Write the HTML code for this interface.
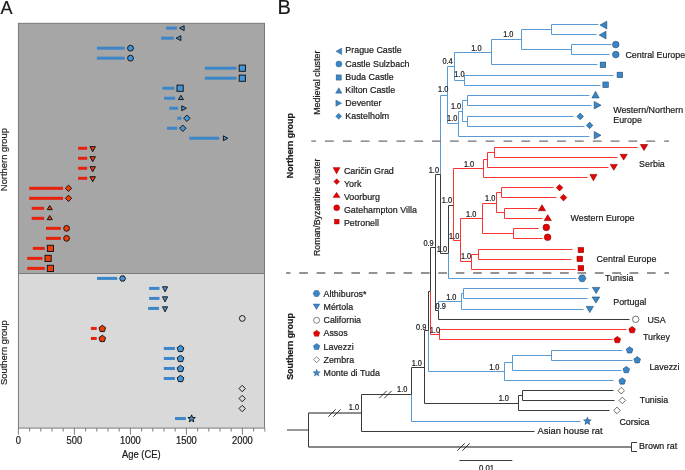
<!DOCTYPE html>
<html><head><meta charset="utf-8"><style>
html,body{margin:0;padding:0;background:#fff;overflow:hidden;}
svg{display:block;will-change:transform;}
text{font-family:"Liberation Sans",sans-serif;}
</style></head><body>
<svg width="685" height="470" viewBox="0 0 685 470">
<rect x="18.4" y="23.3" width="246.1" height="250.2" fill="#a6a6a6"/>
<rect x="18.4" y="273.5" width="246.1" height="154.6" fill="#d9d9d9"/>
<rect x="166.1" y="26.65" width="10.8" height="3" fill="#3c86c8"/>
<polygon points="179.57,28.15 184.12,25.73 184.12,30.57" fill="#4297dc" stroke="#111" stroke-width="0.95" />
<rect x="161.1" y="36.66" width="12.6" height="3" fill="#3c86c8"/>
<polygon points="176.17,38.16 180.83,35.73 180.83,40.58" fill="#4297dc" stroke="#111" stroke-width="0.95" />
<rect x="96.9" y="46.67" width="27.8" height="3" fill="#3c86c8"/>
<circle cx="130.5" cy="48.17" r="2.9" fill="#4297dc" stroke="#111" stroke-width="0.95"/>
<rect x="96.9" y="56.68" width="27.8" height="3" fill="#3c86c8"/>
<circle cx="130.5" cy="58.18" r="2.9" fill="#4297dc" stroke="#111" stroke-width="0.95"/>
<rect x="204.9" y="66.69" width="31.6" height="3" fill="#3c86c8"/>
<rect x="239.2" y="65.09" width="6.2" height="6.2" fill="#4297dc" stroke="#111" stroke-width="0.95"/>
<rect x="204.9" y="76.7" width="31.6" height="3" fill="#3c86c8"/>
<rect x="239.2" y="75.1" width="6.2" height="6.2" fill="#4297dc" stroke="#111" stroke-width="0.95"/>
<rect x="162.3" y="86.71" width="12.1" height="3" fill="#3c86c8"/>
<rect x="177" y="85.11" width="6.2" height="6.2" fill="#4297dc" stroke="#111" stroke-width="0.95"/>
<rect x="164.1" y="96.72" width="11" height="3" fill="#3c86c8"/>
<polygon points="180.9,95.39 183.43,99.55 178.38,99.55" fill="#4297dc" stroke="#111" stroke-width="0.95" />
<rect x="169.3" y="106.73" width="8.8" height="3" fill="#3c86c8"/>
<polygon points="181.78,105.8 186.43,108.23 181.78,110.66" fill="#4297dc" stroke="#111" stroke-width="0.95" />
<rect x="177.2" y="116.74" width="4.1" height="3" fill="#3c86c8"/>
<polygon points="186.9,115.04 190.1,118.24 186.9,121.44 183.7,118.24" fill="#4297dc" stroke="#111" stroke-width="0.95" />
<rect x="167" y="126.75" width="10.2" height="3" fill="#3c86c8"/>
<polygon points="182.8,125.05 186,128.25 182.8,131.45 179.6,128.25" fill="#4297dc" stroke="#111" stroke-width="0.95" />
<rect x="189.3" y="136.76" width="29.9" height="3" fill="#3c86c8"/>
<polygon points="223.38,135.83 227.83,138.26 223.38,140.69" fill="#4297dc" stroke="#111" stroke-width="0.95" />
<rect x="78.1" y="146.77" width="9.1" height="3" fill="#e8210c"/>
<polygon points="89.97,146.65 95.43,146.65 92.7,151.7" fill="#ee3c08" stroke="#111" stroke-width="0.95" />
<rect x="78.1" y="156.78" width="9.1" height="3" fill="#e8210c"/>
<polygon points="89.97,156.66 95.43,156.66 92.7,161.71" fill="#ee3c08" stroke="#111" stroke-width="0.95" />
<rect x="78.1" y="166.79" width="9.1" height="3" fill="#e8210c"/>
<polygon points="89.97,166.66 95.43,166.66 92.7,171.72" fill="#ee3c08" stroke="#111" stroke-width="0.95" />
<rect x="78.1" y="176.8" width="9.1" height="3" fill="#e8210c"/>
<polygon points="89.97,176.68 95.43,176.68 92.7,181.73" fill="#ee3c08" stroke="#111" stroke-width="0.95" />
<rect x="29.2" y="186.81" width="33.9" height="3" fill="#e8210c"/>
<polygon points="68.5,185.11 71.7,188.31 68.5,191.51 65.3,188.31" fill="#ee3c08" stroke="#111" stroke-width="0.95" />
<rect x="29.2" y="196.82" width="33.9" height="3" fill="#e8210c"/>
<polygon points="68.5,195.12 71.7,198.32 68.5,201.52 65.3,198.32" fill="#ee3c08" stroke="#111" stroke-width="0.95" />
<rect x="31.7" y="206.83" width="12.4" height="3" fill="#e8210c"/>
<polygon points="49.75,205.5 52.32,209.66 47.18,209.66" fill="#ee3c08" stroke="#111" stroke-width="0.95" />
<rect x="31.7" y="216.84" width="12.4" height="3" fill="#e8210c"/>
<polygon points="49.75,215.51 52.32,219.67 47.18,219.67" fill="#ee3c08" stroke="#111" stroke-width="0.95" />
<rect x="46" y="226.85" width="14.9" height="3" fill="#e8210c"/>
<circle cx="66.6" cy="228.35" r="2.9" fill="#ee3c08" stroke="#111" stroke-width="0.95"/>
<rect x="46" y="236.86" width="14.9" height="3" fill="#e8210c"/>
<circle cx="66.6" cy="238.36" r="2.9" fill="#ee3c08" stroke="#111" stroke-width="0.95"/>
<rect x="32.8" y="246.87" width="12" height="3" fill="#e8210c"/>
<rect x="47.3" y="245.27" width="6.2" height="6.2" fill="#ee3c08" stroke="#111" stroke-width="0.95"/>
<rect x="27.2" y="256.88" width="15.3" height="3" fill="#e8210c"/>
<rect x="45" y="255.28" width="6.2" height="6.2" fill="#ee3c08" stroke="#111" stroke-width="0.95"/>
<rect x="27.2" y="266.89" width="17.6" height="3" fill="#e8210c"/>
<rect x="47.3" y="265.29" width="6.2" height="6.2" fill="#ee3c08" stroke="#111" stroke-width="0.95"/>
<rect x="97" y="276.9" width="20.2" height="3" fill="#3c86c8"/>
<polygon points="125.6,278.5 124.1,281.1 121.1,281.1 119.6,278.5 121.1,275.9 124.1,275.9" fill="#4297dc" stroke="#111" stroke-width="0.95" />
<rect x="149.1" y="286.91" width="10.4" height="3" fill="#3c86c8"/>
<polygon points="162.47,286.78 167.62,286.78 165.05,291.83" fill="#4297dc" stroke="#111" stroke-width="0.95" />
<rect x="149.1" y="296.92" width="10.4" height="3" fill="#3c86c8"/>
<polygon points="162.47,296.79 167.62,296.79 165.05,301.84" fill="#4297dc" stroke="#111" stroke-width="0.95" />
<rect x="148.1" y="306.93" width="10.9" height="3" fill="#3c86c8"/>
<polygon points="162.47,306.8 167.62,306.8 165.05,311.85" fill="#4297dc" stroke="#111" stroke-width="0.95" />
<circle cx="242.3" cy="318.44" r="2.9" fill="none" stroke="#111" stroke-width="0.95"/>
<rect x="90.9" y="326.95" width="5.8" height="3" fill="#e8210c"/>
<polygon points="102.3,325.25 105.63,327.67 104.36,331.58 100.24,331.58 98.97,327.67" fill="#ee3c08" stroke="#111" stroke-width="0.95" />
<rect x="90.9" y="336.96" width="5.8" height="3" fill="#e8210c"/>
<polygon points="102.3,335.26 105.63,337.68 104.36,341.59 100.24,341.59 98.97,337.68" fill="#ee3c08" stroke="#111" stroke-width="0.95" />
<rect x="163.8" y="346.97" width="11.1" height="3" fill="#3c86c8"/>
<polygon points="180.5,345.27 183.83,347.69 182.56,351.6 178.44,351.6 177.17,347.69" fill="#4297dc" stroke="#111" stroke-width="0.95" />
<rect x="163.8" y="356.98" width="11.1" height="3" fill="#3c86c8"/>
<polygon points="180.5,355.28 183.83,357.7 182.56,361.61 178.44,361.61 177.17,357.7" fill="#4297dc" stroke="#111" stroke-width="0.95" />
<rect x="163.8" y="366.99" width="11.1" height="3" fill="#3c86c8"/>
<polygon points="180.5,365.29 183.83,367.71 182.56,371.62 178.44,371.62 177.17,367.71" fill="#4297dc" stroke="#111" stroke-width="0.95" />
<rect x="163.8" y="377" width="11.1" height="3" fill="#3c86c8"/>
<polygon points="180.5,375.3 183.83,377.72 182.56,381.63 178.44,381.63 177.17,377.72" fill="#4297dc" stroke="#111" stroke-width="0.95" />
<polygon points="242.2,385.31 245.4,388.51 242.2,391.71 239,388.51" fill="none" stroke="#111" stroke-width="0.95" />
<polygon points="242.2,395.32 245.4,398.52 242.2,401.72 239,398.52" fill="none" stroke="#111" stroke-width="0.95" />
<polygon points="242.2,405.33 245.4,408.53 242.2,411.73 239,408.53" fill="none" stroke="#111" stroke-width="0.95" />
<rect x="175" y="417.04" width="10.9" height="3" fill="#3c86c8"/>
<polygon points="191.6,414.84 192.54,417.45 195.31,417.53 193.12,419.23 193.89,421.9 191.6,420.34 189.31,421.9 190.08,419.23 187.89,417.53 190.66,417.45" fill="#4297dc" stroke="#111" stroke-width="0.95" />
<rect x="18.4" y="23.3" width="246.1" height="404.8" fill="none" stroke="#707070" stroke-width="0.9"/>
<line x1="18.4" y1="273.5" x2="264.5" y2="273.5" stroke="#707070" stroke-width="0.9"/>
<line x1="18.4" y1="428.1" x2="18.4" y2="434.7" stroke="#707070" stroke-width="0.9"/>
<line x1="29.6" y1="428.1" x2="29.6" y2="431.6" stroke="#707070" stroke-width="0.9"/>
<line x1="40.8" y1="428.1" x2="40.8" y2="431.6" stroke="#707070" stroke-width="0.9"/>
<line x1="52" y1="428.1" x2="52" y2="431.6" stroke="#707070" stroke-width="0.9"/>
<line x1="63.2" y1="428.1" x2="63.2" y2="431.6" stroke="#707070" stroke-width="0.9"/>
<line x1="74.4" y1="428.1" x2="74.4" y2="434.7" stroke="#707070" stroke-width="0.9"/>
<line x1="85.6" y1="428.1" x2="85.6" y2="431.6" stroke="#707070" stroke-width="0.9"/>
<line x1="96.8" y1="428.1" x2="96.8" y2="431.6" stroke="#707070" stroke-width="0.9"/>
<line x1="108" y1="428.1" x2="108" y2="431.6" stroke="#707070" stroke-width="0.9"/>
<line x1="119.2" y1="428.1" x2="119.2" y2="431.6" stroke="#707070" stroke-width="0.9"/>
<line x1="130.4" y1="428.1" x2="130.4" y2="434.7" stroke="#707070" stroke-width="0.9"/>
<line x1="141.6" y1="428.1" x2="141.6" y2="431.6" stroke="#707070" stroke-width="0.9"/>
<line x1="152.8" y1="428.1" x2="152.8" y2="431.6" stroke="#707070" stroke-width="0.9"/>
<line x1="164" y1="428.1" x2="164" y2="431.6" stroke="#707070" stroke-width="0.9"/>
<line x1="175.2" y1="428.1" x2="175.2" y2="431.6" stroke="#707070" stroke-width="0.9"/>
<line x1="186.4" y1="428.1" x2="186.4" y2="434.7" stroke="#707070" stroke-width="0.9"/>
<line x1="197.6" y1="428.1" x2="197.6" y2="431.6" stroke="#707070" stroke-width="0.9"/>
<line x1="208.8" y1="428.1" x2="208.8" y2="431.6" stroke="#707070" stroke-width="0.9"/>
<line x1="220" y1="428.1" x2="220" y2="431.6" stroke="#707070" stroke-width="0.9"/>
<line x1="231.2" y1="428.1" x2="231.2" y2="431.6" stroke="#707070" stroke-width="0.9"/>
<line x1="242.4" y1="428.1" x2="242.4" y2="434.7" stroke="#707070" stroke-width="0.9"/>
<line x1="253.6" y1="428.1" x2="253.6" y2="431.6" stroke="#707070" stroke-width="0.9"/>
<line x1="264.8" y1="428.1" x2="264.8" y2="431.6" stroke="#707070" stroke-width="0.9"/>
<text transform="translate(18.4 443.7) scale(1 1.1)" font-size="9.4" text-anchor="middle" fill="#1a1a1a" stroke="#1a1a1a" stroke-width="0.2">0</text>
<text transform="translate(74.4 443.7) scale(1 1.1)" font-size="9.4" text-anchor="middle" fill="#1a1a1a" stroke="#1a1a1a" stroke-width="0.2">500</text>
<text transform="translate(130.4 443.7) scale(1 1.1)" font-size="9.4" text-anchor="middle" fill="#1a1a1a" stroke="#1a1a1a" stroke-width="0.2">1000</text>
<text transform="translate(186.4 443.7) scale(1 1.1)" font-size="9.4" text-anchor="middle" fill="#1a1a1a" stroke="#1a1a1a" stroke-width="0.2">1500</text>
<text transform="translate(242.4 443.7) scale(1 1.1)" font-size="9.4" text-anchor="middle" fill="#1a1a1a" stroke="#1a1a1a" stroke-width="0.2">2000</text>
<text transform="translate(141.3 457.6) scale(1 1.1)" font-size="9.4" text-anchor="middle" fill="#1a1a1a" stroke="#1a1a1a" stroke-width="0.2">Age (CE)</text>
<text transform="translate(7.1 159.6) rotate(-90) scale(1 0.92)" font-size="9.4" text-anchor="middle" fill="#1a1a1a" stroke="#1a1a1a" stroke-width="0.2">Northern group</text>
<text transform="translate(7.1 352.6) rotate(-90) scale(1 0.92)" font-size="9.4" text-anchor="middle" fill="#1a1a1a" stroke="#1a1a1a" stroke-width="0.2">Southern group</text>
<text transform="translate(0.4 13.5) scale(1 1.07)" font-size="18" fill="#1a1a1a" stroke="#1a1a1a" stroke-width="0.2">A</text>
<text transform="translate(277.4 13.8) scale(1 1.0)" font-size="20" fill="#1a1a1a" stroke="#1a1a1a" stroke-width="0.2">B</text>
<line x1="551.5" y1="24.5" x2="598.5" y2="24.5" stroke="#5b9bd5" stroke-width="1.0"/>
<line x1="551.5" y1="34.5" x2="596.5" y2="34.5" stroke="#5b9bd5" stroke-width="1.0"/>
<line x1="571.5" y1="44.5" x2="611.5" y2="44.5" stroke="#5b9bd5" stroke-width="1.0"/>
<line x1="571.5" y1="54.5" x2="609.5" y2="54.5" stroke="#5b9bd5" stroke-width="1.0"/>
<line x1="491.5" y1="64.5" x2="597.5" y2="64.5" stroke="#5b9bd5" stroke-width="1.0"/>
<line x1="464.5" y1="75.5" x2="613.5" y2="75.5" stroke="#5b9bd5" stroke-width="1.0"/>
<line x1="464.5" y1="85.5" x2="600.5" y2="85.5" stroke="#5b9bd5" stroke-width="1.0"/>
<line x1="467.5" y1="95.5" x2="589.5" y2="95.5" stroke="#5b9bd5" stroke-width="1.0"/>
<line x1="467.5" y1="105.5" x2="591.5" y2="105.5" stroke="#5b9bd5" stroke-width="1.0"/>
<line x1="467.5" y1="116.5" x2="573.5" y2="116.5" stroke="#5b9bd5" stroke-width="1.0"/>
<line x1="467.5" y1="126.5" x2="584.5" y2="126.5" stroke="#5b9bd5" stroke-width="1.0"/>
<line x1="458.5" y1="136.5" x2="589.5" y2="136.5" stroke="#5b9bd5" stroke-width="1.0"/>
<line x1="494.5" y1="147.5" x2="637.5" y2="147.5" stroke="#fa3434" stroke-width="1.0"/>
<line x1="494.5" y1="157.5" x2="617.5" y2="157.5" stroke="#fa3434" stroke-width="1.0"/>
<line x1="487.5" y1="167.5" x2="608.5" y2="167.5" stroke="#fa3434" stroke-width="1.0"/>
<line x1="483.5" y1="177.5" x2="587.5" y2="177.5" stroke="#fa3434" stroke-width="1.0"/>
<line x1="501.5" y1="187.5" x2="553.5" y2="187.5" stroke="#fa3434" stroke-width="1.0"/>
<line x1="501.5" y1="197.5" x2="556.5" y2="197.5" stroke="#fa3434" stroke-width="1.0"/>
<line x1="504.5" y1="208.5" x2="537.5" y2="208.5" stroke="#fa3434" stroke-width="1.0"/>
<line x1="504.5" y1="218.5" x2="542.5" y2="218.5" stroke="#fa3434" stroke-width="1.0"/>
<line x1="513.5" y1="228.5" x2="538.5" y2="228.5" stroke="#fa3434" stroke-width="1.0"/>
<line x1="513.5" y1="238.5" x2="542.5" y2="238.5" stroke="#fa3434" stroke-width="1.0"/>
<line x1="478.5" y1="249.5" x2="572.5" y2="249.5" stroke="#fa3434" stroke-width="1.0"/>
<line x1="478.5" y1="259.5" x2="571.5" y2="259.5" stroke="#fa3434" stroke-width="1.0"/>
<line x1="471.5" y1="269.5" x2="575.5" y2="269.5" stroke="#fa3434" stroke-width="1.0"/>
<line x1="448.5" y1="278.5" x2="576.5" y2="278.5" stroke="#5b9bd5" stroke-width="1.0"/>
<line x1="463.5" y1="288.5" x2="588.5" y2="288.5" stroke="#5b9bd5" stroke-width="1.0"/>
<line x1="463.5" y1="298.5" x2="587.5" y2="298.5" stroke="#5b9bd5" stroke-width="1.0"/>
<line x1="461.5" y1="309.5" x2="583.5" y2="309.5" stroke="#5b9bd5" stroke-width="1.0"/>
<line x1="438.5" y1="319.5" x2="629.5" y2="319.5" stroke="#3a3a3a" stroke-width="1.0"/>
<line x1="439.5" y1="329.5" x2="626.5" y2="329.5" stroke="#fa3434" stroke-width="1.0"/>
<line x1="439.5" y1="339.5" x2="612.5" y2="339.5" stroke="#fa3434" stroke-width="1.0"/>
<line x1="551.5" y1="350.5" x2="622.5" y2="350.5" stroke="#5b9bd5" stroke-width="1.0"/>
<line x1="551.5" y1="360.5" x2="632.5" y2="360.5" stroke="#5b9bd5" stroke-width="1.0"/>
<line x1="512.5" y1="370.5" x2="621.5" y2="370.5" stroke="#5b9bd5" stroke-width="1.0"/>
<line x1="504.5" y1="380.5" x2="613.5" y2="380.5" stroke="#5b9bd5" stroke-width="1.0"/>
<line x1="522.5" y1="390.5" x2="613.5" y2="390.5" stroke="#3a3a3a" stroke-width="1.0"/>
<line x1="522.5" y1="400.5" x2="614.5" y2="400.5" stroke="#3a3a3a" stroke-width="1.0"/>
<line x1="518.5" y1="410.5" x2="609.5" y2="410.5" stroke="#3a3a3a" stroke-width="1.0"/>
<line x1="411.5" y1="421.5" x2="580.5" y2="421.5" stroke="#5b9bd5" stroke-width="1.0"/>
<line x1="361.5" y1="431.5" x2="534.5" y2="431.5" stroke="#3a3a3a" stroke-width="1.0"/>
<line x1="308.5" y1="447" x2="631.5" y2="447" stroke="#111" stroke-width="1.0"/>
<line x1="551.5" y1="24.5" x2="551.5" y2="34.5" stroke="#5b9bd5" stroke-width="1.0"/>
<line x1="571.5" y1="44.5" x2="571.5" y2="54.5" stroke="#5b9bd5" stroke-width="1.0"/>
<line x1="521.5" y1="29.5" x2="521.5" y2="49.5" stroke="#5b9bd5" stroke-width="1.0"/>
<line x1="521.5" y1="29.5" x2="551.5" y2="29.5" stroke="#5b9bd5" stroke-width="1.0"/>
<line x1="521.5" y1="49.5" x2="571.5" y2="49.5" stroke="#5b9bd5" stroke-width="1.0"/>
<line x1="491.5" y1="39.5" x2="491.5" y2="64.5" stroke="#5b9bd5" stroke-width="1.0"/>
<line x1="491.5" y1="39.5" x2="521.5" y2="39.5" stroke="#5b9bd5" stroke-width="1.0"/>
<line x1="454.5" y1="52.5" x2="454.5" y2="80.5" stroke="#5b9bd5" stroke-width="1.0"/>
<line x1="454.5" y1="52.5" x2="491.5" y2="52.5" stroke="#5b9bd5" stroke-width="1.0"/>
<line x1="464.5" y1="75.5" x2="464.5" y2="85.5" stroke="#5b9bd5" stroke-width="1.0"/>
<line x1="454.5" y1="80.5" x2="464.5" y2="80.5" stroke="#5b9bd5" stroke-width="1.0"/>
<line x1="447.5" y1="66.5" x2="447.5" y2="123.5" stroke="#5b9bd5" stroke-width="1.0"/>
<line x1="447.5" y1="66.5" x2="454.5" y2="66.5" stroke="#5b9bd5" stroke-width="1.0"/>
<line x1="458.5" y1="111.5" x2="458.5" y2="136.5" stroke="#5b9bd5" stroke-width="1.0"/>
<line x1="447.5" y1="123.5" x2="458.5" y2="123.5" stroke="#5b9bd5" stroke-width="1.0"/>
<line x1="462.5" y1="100.5" x2="462.5" y2="121.5" stroke="#5b9bd5" stroke-width="1.0"/>
<line x1="458.5" y1="111.5" x2="462.5" y2="111.5" stroke="#5b9bd5" stroke-width="1.0"/>
<line x1="467.5" y1="95.5" x2="467.5" y2="105.5" stroke="#5b9bd5" stroke-width="1.0"/>
<line x1="462.5" y1="100.5" x2="467.5" y2="100.5" stroke="#5b9bd5" stroke-width="1.0"/>
<line x1="467.5" y1="116.5" x2="467.5" y2="126.5" stroke="#5b9bd5" stroke-width="1.0"/>
<line x1="462.5" y1="121.5" x2="467.5" y2="121.5" stroke="#5b9bd5" stroke-width="1.0"/>
<line x1="440.5" y1="95.5" x2="447.5" y2="95.5" stroke="#5b9bd5" stroke-width="1.0"/>
<line x1="440.5" y1="95.5" x2="440.5" y2="174.5" stroke="#5b9bd5" stroke-width="1.0"/>
<line x1="440.5" y1="174.5" x2="440.5" y2="253.5" stroke="#3a3a3a" stroke-width="1.0"/>
<line x1="435.5" y1="174.5" x2="440.5" y2="174.5" stroke="#3a3a3a" stroke-width="1.0"/>
<line x1="440.5" y1="253.5" x2="448.5" y2="253.5" stroke="#3a3a3a" stroke-width="1.0"/>
<line x1="448.5" y1="205.5" x2="448.5" y2="253.5" stroke="#3a3a3a" stroke-width="1.0"/>
<line x1="448.5" y1="253.5" x2="448.5" y2="278.5" stroke="#5b9bd5" stroke-width="1.0"/>
<line x1="448.5" y1="205.5" x2="453.5" y2="205.5" stroke="#3a3a3a" stroke-width="1.0"/>
<line x1="453.5" y1="168.5" x2="453.5" y2="240.5" stroke="#fa3434" stroke-width="1.0"/>
<line x1="453.5" y1="168.5" x2="483.5" y2="168.5" stroke="#fa3434" stroke-width="1.0"/>
<line x1="483.5" y1="159.5" x2="483.5" y2="177.5" stroke="#fa3434" stroke-width="1.0"/>
<line x1="483.5" y1="159.5" x2="487.5" y2="159.5" stroke="#fa3434" stroke-width="1.0"/>
<line x1="487.5" y1="152.5" x2="487.5" y2="167.5" stroke="#fa3434" stroke-width="1.0"/>
<line x1="487.5" y1="152.5" x2="494.5" y2="152.5" stroke="#fa3434" stroke-width="1.0"/>
<line x1="494.5" y1="147.5" x2="494.5" y2="157.5" stroke="#fa3434" stroke-width="1.0"/>
<line x1="453.5" y1="240.5" x2="460.5" y2="240.5" stroke="#fa3434" stroke-width="1.0"/>
<line x1="460.5" y1="218.5" x2="460.5" y2="261.5" stroke="#fa3434" stroke-width="1.0"/>
<line x1="460.5" y1="218.5" x2="482.5" y2="218.5" stroke="#fa3434" stroke-width="1.0"/>
<line x1="482.5" y1="203.5" x2="482.5" y2="233.5" stroke="#fa3434" stroke-width="1.0"/>
<line x1="482.5" y1="203.5" x2="496.5" y2="203.5" stroke="#fa3434" stroke-width="1.0"/>
<line x1="496.5" y1="192.5" x2="496.5" y2="212.5" stroke="#fa3434" stroke-width="1.0"/>
<line x1="496.5" y1="192.5" x2="501.5" y2="192.5" stroke="#fa3434" stroke-width="1.0"/>
<line x1="501.5" y1="187.5" x2="501.5" y2="197.5" stroke="#fa3434" stroke-width="1.0"/>
<line x1="496.5" y1="212.5" x2="504.5" y2="212.5" stroke="#fa3434" stroke-width="1.0"/>
<line x1="504.5" y1="208.5" x2="504.5" y2="218.5" stroke="#fa3434" stroke-width="1.0"/>
<line x1="482.5" y1="233.5" x2="513.5" y2="233.5" stroke="#fa3434" stroke-width="1.0"/>
<line x1="513.5" y1="228.5" x2="513.5" y2="238.5" stroke="#fa3434" stroke-width="1.0"/>
<line x1="460.5" y1="261.5" x2="471.5" y2="261.5" stroke="#fa3434" stroke-width="1.0"/>
<line x1="471.5" y1="254.5" x2="471.5" y2="269.5" stroke="#fa3434" stroke-width="1.0"/>
<line x1="471.5" y1="254.5" x2="478.5" y2="254.5" stroke="#fa3434" stroke-width="1.0"/>
<line x1="478.5" y1="249.5" x2="478.5" y2="259.5" stroke="#fa3434" stroke-width="1.0"/>
<line x1="435.5" y1="174.5" x2="435.5" y2="310.5" stroke="#3a3a3a" stroke-width="1.0"/>
<line x1="430.5" y1="247.5" x2="435.5" y2="247.5" stroke="#3a3a3a" stroke-width="1.0"/>
<line x1="430.5" y1="247.5" x2="430.5" y2="291.5" stroke="#3a3a3a" stroke-width="1.0"/>
<line x1="430.5" y1="291.5" x2="430.5" y2="334.5" stroke="#fa3434" stroke-width="1.0"/>
<line x1="430.5" y1="334.5" x2="439.5" y2="334.5" stroke="#fa3434" stroke-width="1.0"/>
<line x1="439.5" y1="329.5" x2="439.5" y2="339.5" stroke="#fa3434" stroke-width="1.0"/>
<line x1="428.5" y1="291.5" x2="430.5" y2="291.5" stroke="#3a3a3a" stroke-width="1.0"/>
<line x1="428.5" y1="291.5" x2="428.5" y2="330.5" stroke="#3a3a3a" stroke-width="1.0"/>
<line x1="428.5" y1="330.5" x2="428.5" y2="371.5" stroke="#5b9bd5" stroke-width="1.0"/>
<line x1="435.5" y1="310.5" x2="438.5" y2="310.5" stroke="#3a3a3a" stroke-width="1.0"/>
<line x1="438.5" y1="301.5" x2="438.5" y2="310.5" stroke="#5b9bd5" stroke-width="1.0"/>
<line x1="438.5" y1="310.5" x2="438.5" y2="319.5" stroke="#3a3a3a" stroke-width="1.0"/>
<line x1="438.5" y1="301.5" x2="461.5" y2="301.5" stroke="#5b9bd5" stroke-width="1.0"/>
<line x1="461.5" y1="293.5" x2="461.5" y2="309.5" stroke="#5b9bd5" stroke-width="1.0"/>
<line x1="461.5" y1="293.5" x2="463.5" y2="293.5" stroke="#5b9bd5" stroke-width="1.0"/>
<line x1="463.5" y1="288.5" x2="463.5" y2="298.5" stroke="#5b9bd5" stroke-width="1.0"/>
<line x1="424.5" y1="330.5" x2="428.5" y2="330.5" stroke="#3a3a3a" stroke-width="1.0"/>
<line x1="428.5" y1="371.5" x2="504.5" y2="371.5" stroke="#5b9bd5" stroke-width="1.0"/>
<line x1="504.5" y1="362.5" x2="504.5" y2="380.5" stroke="#5b9bd5" stroke-width="1.0"/>
<line x1="504.5" y1="362.5" x2="512.5" y2="362.5" stroke="#5b9bd5" stroke-width="1.0"/>
<line x1="512.5" y1="355.5" x2="512.5" y2="370.5" stroke="#5b9bd5" stroke-width="1.0"/>
<line x1="512.5" y1="355.5" x2="551.5" y2="355.5" stroke="#5b9bd5" stroke-width="1.0"/>
<line x1="551.5" y1="350.5" x2="551.5" y2="360.5" stroke="#5b9bd5" stroke-width="1.0"/>
<line x1="424.5" y1="330.5" x2="424.5" y2="403.5" stroke="#3a3a3a" stroke-width="1.0"/>
<line x1="424.5" y1="403.5" x2="518.5" y2="403.5" stroke="#3a3a3a" stroke-width="1.0"/>
<line x1="518.5" y1="395.5" x2="518.5" y2="410.5" stroke="#3a3a3a" stroke-width="1.0"/>
<line x1="518.5" y1="395.5" x2="522.5" y2="395.5" stroke="#3a3a3a" stroke-width="1.0"/>
<line x1="522.5" y1="390.5" x2="522.5" y2="400.5" stroke="#3a3a3a" stroke-width="1.0"/>
<line x1="411.5" y1="367.5" x2="424.5" y2="367.5" stroke="#3a3a3a" stroke-width="1.0"/>
<line x1="411.5" y1="367.5" x2="411.5" y2="394.5" stroke="#3a3a3a" stroke-width="1.0"/>
<line x1="411.5" y1="394.5" x2="411.5" y2="421.5" stroke="#5b9bd5" stroke-width="1.0"/>
<line x1="361.5" y1="394.5" x2="411.5" y2="394.5" stroke="#3a3a3a" stroke-width="1.0"/>
<line x1="361.5" y1="394.5" x2="361.5" y2="431.5" stroke="#3a3a3a" stroke-width="1.0"/>
<line x1="308.5" y1="413" x2="361" y2="413" stroke="#1a1a1a" stroke-width="1.0"/>
<line x1="308.5" y1="413" x2="308.5" y2="447" stroke="#3a3a3a" stroke-width="1.0"/>
<line x1="287" y1="430" x2="308.5" y2="430" stroke="#333" stroke-width="1.0"/>
<polyline points="637,442.5 631.5,442.5 631.5,451.5 637,451.5" fill="none" stroke="#3a3a3a" stroke-width="1.0"/>
<polygon points="600,25.05 606.8,21.2 606.8,28.9" fill="#3a86c6" stroke="#1f4a70" stroke-width="0.6" />
<polygon points="599.2,35.05 606,31.2 606,38.9" fill="#3a86c6" stroke="#1f4a70" stroke-width="0.6" />
<circle cx="615.8" cy="44.6" r="3.3" fill="#3a86c6" stroke="#1f4a70" stroke-width="0.6"/>
<circle cx="615.8" cy="54.6" r="3.3" fill="#3a86c6" stroke="#1f4a70" stroke-width="0.6"/>
<rect x="600.2" y="62.1" width="5.5" height="5.4" fill="#3a86c6" stroke="#1f4a70" stroke-width="0.6"/>
<rect x="617.1" y="72.2" width="5.6" height="5.4" fill="#3a86c6" stroke="#1f4a70" stroke-width="0.6"/>
<rect x="602.9" y="82" width="5.4" height="5.5" fill="#3a86c6" stroke="#1f4a70" stroke-width="0.6"/>
<polygon points="595.55,91.3 599.2,97.9 591.9,97.9" fill="#3a86c6" stroke="#1f4a70" stroke-width="0.6" />
<polygon points="594.2,101.5 601.1,105.2 594.2,108.9" fill="#3a86c6" stroke="#1f4a70" stroke-width="0.6" />
<polygon points="580.2,113.1 583.5,116.4 580.2,119.7 576.9,116.4" fill="#3a86c6" stroke="#1f4a70" stroke-width="0.6" />
<polygon points="589.6,122.1 592.9,125.4 589.6,128.7 586.3,125.4" fill="#3a86c6" stroke="#1f4a70" stroke-width="0.6" />
<polygon points="594.2,131.6 601,135.3 594.2,139" fill="#3a86c6" stroke="#1f4a70" stroke-width="0.6" />
<polygon points="640.3,144.5 647.7,144.5 644,150.5" fill="#e80000" stroke="#8a0000" stroke-width="0.6" />
<polygon points="620.1,154.3 627.3,154.3 623.7,160.1" fill="#e80000" stroke="#8a0000" stroke-width="0.6" />
<polygon points="610.2,164.4 617.4,164.4 613.8,170.3" fill="#e80000" stroke="#8a0000" stroke-width="0.6" />
<polygon points="589.9,174.4 597,174.4 593.45,180.8" fill="#e80000" stroke="#8a0000" stroke-width="0.6" />
<polygon points="559.6,184.4 562.9,187.7 559.6,191 556.3,187.7" fill="#e80000" stroke="#8a0000" stroke-width="0.6" />
<polygon points="563.5,194.3 566.8,197.6 563.5,200.9 560.2,197.6" fill="#e80000" stroke="#8a0000" stroke-width="0.6" />
<polygon points="542,204.8 545.6,210.7 538.4,210.7" fill="#e80000" stroke="#8a0000" stroke-width="0.6" />
<polygon points="547.75,214.7 551.4,220.6 544.1,220.6" fill="#e80000" stroke="#8a0000" stroke-width="0.6" />
<circle cx="546.3" cy="227.4" r="3.3" fill="#e80000" stroke="#8a0000" stroke-width="0.6"/>
<circle cx="547.6" cy="237.3" r="3.3" fill="#e80000" stroke="#8a0000" stroke-width="0.6"/>
<rect x="578.1" y="247.6" width="5.6" height="5" fill="#e80000" stroke="#8a0000" stroke-width="0.6"/>
<rect x="577" y="256.2" width="5.6" height="5.4" fill="#e80000" stroke="#8a0000" stroke-width="0.6"/>
<rect x="578.1" y="265.6" width="5.6" height="5.2" fill="#e80000" stroke="#8a0000" stroke-width="0.6"/>
<polygon points="586,278.3 584.1,281.59 580.3,281.59 578.4,278.3 580.3,275.01 584.1,275.01" fill="#3a86c6" stroke="#1f4a70" stroke-width="0.6" />
<polygon points="592.4,287.4 599.9,287.4 596.15,293.6" fill="#3a86c6" stroke="#1f4a70" stroke-width="0.6" />
<polygon points="592.1,297 599.7,297 595.9,303.1" fill="#3a86c6" stroke="#1f4a70" stroke-width="0.6" />
<polygon points="586.2,306.4 593.4,306.4 589.8,312.6" fill="#3a86c6" stroke="#1f4a70" stroke-width="0.6" />
<circle cx="635.7" cy="319.3" r="3.2" fill="#fff" stroke="#333" stroke-width="0.7"/>
<polygon points="632.1,326.5 635.43,328.92 634.16,332.83 630.04,332.83 628.77,328.92" fill="#e80000" stroke="#8a0000" stroke-width="0.6" />
<polygon points="617.3,336.4 620.63,338.82 619.36,342.73 615.24,342.73 613.97,338.82" fill="#e80000" stroke="#8a0000" stroke-width="0.6" />
<polygon points="629.6,346.7 632.93,349.12 631.66,353.03 627.54,353.03 626.27,349.12" fill="#3a86c6" stroke="#1f4a70" stroke-width="0.6" />
<polygon points="637.2,356.6 640.53,359.02 639.26,362.93 635.14,362.93 633.87,359.02" fill="#3a86c6" stroke="#1f4a70" stroke-width="0.6" />
<polygon points="626.3,366.4 629.63,368.82 628.36,372.73 624.24,372.73 622.97,368.82" fill="#3a86c6" stroke="#1f4a70" stroke-width="0.6" />
<polygon points="622.2,377.8 625.53,380.22 624.26,384.13 620.14,384.13 618.87,380.22" fill="#3a86c6" stroke="#1f4a70" stroke-width="0.6" />
<polygon points="621.2,387.4 624.5,390.7 621.2,394 617.9,390.7" fill="#fff" stroke="#333" stroke-width="0.7" />
<polygon points="622.3,397.1 625.6,400.4 622.3,403.7 619,400.4" fill="#fff" stroke="#333" stroke-width="0.7" />
<polygon points="617,407.1 620.3,410.4 617,413.7 613.7,410.4" fill="#fff" stroke="#333" stroke-width="0.7" />
<polygon points="587.4,417.2 588.39,419.84 591.2,419.96 589,421.72 589.75,424.44 587.4,422.88 585.05,424.44 585.8,421.72 583.6,419.96 586.41,419.84" fill="#3a86c6" stroke="#1f4a70" stroke-width="0.6" />
<line x1="328.3" y1="416.7" x2="335.7" y2="409.3" stroke="#222" stroke-width="0.9"/>
<line x1="333.3" y1="416.7" x2="340.7" y2="409.3" stroke="#222" stroke-width="0.9"/>
<line x1="379.3" y1="398.2" x2="386.7" y2="390.8" stroke="#222" stroke-width="0.9"/>
<line x1="384.3" y1="398.2" x2="391.7" y2="390.8" stroke="#222" stroke-width="0.9"/>
<line x1="457.3" y1="450.7" x2="464.7" y2="443.3" stroke="#222" stroke-width="0.9"/>
<line x1="462.3" y1="450.7" x2="469.7" y2="443.3" stroke="#222" stroke-width="0.9"/>
<line x1="459.4" y1="460.5" x2="512.3" y2="460.5" stroke="#3a3a3a" stroke-width="1"/>
<text transform="translate(486.6 470.8) scale(1 1.1)" font-size="7.8" text-anchor="middle" fill="#1a1a1a" stroke="#1a1a1a" stroke-width="0.2">0.01</text>
<line x1="311.3" y1="141.2" x2="668.9" y2="141.2" stroke="#707070" stroke-width="1.3" stroke-dasharray="8.8 9.05" stroke-dashoffset="4.15"/>
<line x1="286.1" y1="273.0" x2="669.0" y2="273.0" stroke="#707070" stroke-width="1.3" stroke-dasharray="8.7 8.69" stroke-dashoffset="4.29"/>
<text transform="translate(513.4 37.4) scale(1 1.1)" font-size="7.4" text-anchor="end" fill="#1a1a1a" stroke="#1a1a1a" stroke-width="0.2">1.0</text>
<text transform="translate(481.5 50.9) scale(1 1.1)" font-size="7.4" text-anchor="end" fill="#1a1a1a" stroke="#1a1a1a" stroke-width="0.2">1.0</text>
<text transform="translate(452.7 64) scale(1 1.1)" font-size="7.4" text-anchor="end" fill="#1a1a1a" stroke="#1a1a1a" stroke-width="0.2">0.4</text>
<text transform="translate(464.5 77.2) scale(1 1.1)" font-size="7.4" text-anchor="end" fill="#1a1a1a" stroke="#1a1a1a" stroke-width="0.2">1.0</text>
<text transform="translate(448.3 92.4) scale(1 1.1)" font-size="7.4" text-anchor="end" fill="#1a1a1a" stroke="#1a1a1a" stroke-width="0.2">1.0</text>
<text transform="translate(461.2 108.8) scale(1 1.1)" font-size="7.4" text-anchor="end" fill="#1a1a1a" stroke="#1a1a1a" stroke-width="0.2">1.0</text>
<text transform="translate(457.3 120.8) scale(1 1.1)" font-size="7.4" text-anchor="end" fill="#1a1a1a" stroke="#1a1a1a" stroke-width="0.2">1.0</text>
<text transform="translate(439 173.2) scale(1 1.1)" font-size="7.4" text-anchor="end" fill="#1a1a1a" stroke="#1a1a1a" stroke-width="0.2">1.0</text>
<text transform="translate(474.2 166.7) scale(1 1.1)" font-size="7.4" text-anchor="end" fill="#1a1a1a" stroke="#1a1a1a" stroke-width="0.2">1.0</text>
<text transform="translate(452.1 202.5) scale(1 1.1)" font-size="7.4" text-anchor="end" fill="#1a1a1a" stroke="#1a1a1a" stroke-width="0.2">1.0</text>
<text transform="translate(495.3 201.3) scale(1 1.1)" font-size="7.4" text-anchor="end" fill="#1a1a1a" stroke="#1a1a1a" stroke-width="0.2">1.0</text>
<text transform="translate(476.3 216.9) scale(1 1.1)" font-size="7.4" text-anchor="end" fill="#1a1a1a" stroke="#1a1a1a" stroke-width="0.2">1.0</text>
<text transform="translate(459.3 238.5) scale(1 1.1)" font-size="7.4" text-anchor="end" fill="#1a1a1a" stroke="#1a1a1a" stroke-width="0.2">1.0</text>
<text transform="translate(447.1 252.1) scale(1 1.1)" font-size="7.4" text-anchor="end" fill="#1a1a1a" stroke="#1a1a1a" stroke-width="0.2">1.0</text>
<text transform="translate(471.2 258.9) scale(1 1.1)" font-size="7.4" text-anchor="end" fill="#1a1a1a" stroke="#1a1a1a" stroke-width="0.2">1.0</text>
<text transform="translate(433.7 245.6) scale(1 1.1)" font-size="7.4" text-anchor="end" fill="#1a1a1a" stroke="#1a1a1a" stroke-width="0.2">0.9</text>
<text transform="translate(456.4 300.3) scale(1 1.1)" font-size="7.4" text-anchor="end" fill="#1a1a1a" stroke="#1a1a1a" stroke-width="0.2">1.0</text>
<text transform="translate(445.8 308.9) scale(1 1.1)" font-size="7.4" text-anchor="end" fill="#1a1a1a" stroke="#1a1a1a" stroke-width="0.2">0.9</text>
<text transform="translate(426.3 330.4) scale(1 1.1)" font-size="7.4" text-anchor="end" fill="#1a1a1a" stroke="#1a1a1a" stroke-width="0.2">0.9</text>
<text transform="translate(440 332.6) scale(1 1.1)" font-size="7.4" text-anchor="end" fill="#1a1a1a" stroke="#1a1a1a" stroke-width="0.2">1.0</text>
<text transform="translate(421.9 365.9) scale(1 1.1)" font-size="7.4" text-anchor="end" fill="#1a1a1a" stroke="#1a1a1a" stroke-width="0.2">1.0</text>
<text transform="translate(499.4 370) scale(1 1.1)" font-size="7.4" text-anchor="end" fill="#1a1a1a" stroke="#1a1a1a" stroke-width="0.2">1.0</text>
<text transform="translate(508.9 401.1) scale(1 1.1)" font-size="7.4" text-anchor="end" fill="#1a1a1a" stroke="#1a1a1a" stroke-width="0.2">1.0</text>
<text transform="translate(407.3 391.6) scale(1 1.1)" font-size="7.4" text-anchor="end" fill="#1a1a1a" stroke="#1a1a1a" stroke-width="0.2">1.0</text>
<text transform="translate(359.1 410.2) scale(1 1.1)" font-size="7.4" text-anchor="end" fill="#1a1a1a" stroke="#1a1a1a" stroke-width="0.2">1.0</text>
<text transform="translate(625.4 57.7) scale(1 1.1)" font-size="8.9" fill="#1a1a1a" stroke="#1a1a1a" stroke-width="0.2">Central Europe</text>
<text transform="translate(613.2 112.5) scale(1 1.1)" font-size="8.9" fill="#1a1a1a" stroke="#1a1a1a" stroke-width="0.2">Western/Northern</text>
<text transform="translate(613.2 123) scale(1 1.1)" font-size="8.9" fill="#1a1a1a" stroke="#1a1a1a" stroke-width="0.2">Europe</text>
<text transform="translate(639.1 166.7) scale(1 1.1)" font-size="8.9" fill="#1a1a1a" stroke="#1a1a1a" stroke-width="0.2">Serbia</text>
<text transform="translate(570.5 220.7) scale(1 1.1)" font-size="8.9" fill="#1a1a1a" stroke="#1a1a1a" stroke-width="0.2">Western Europe</text>
<text transform="translate(596.6 262.4) scale(1 1.1)" font-size="8.9" fill="#1a1a1a" stroke="#1a1a1a" stroke-width="0.2">Central Europe</text>
<text transform="translate(605 280.8) scale(1 1.1)" font-size="8.9" fill="#1a1a1a" stroke="#1a1a1a" stroke-width="0.2">Tunisia</text>
<text transform="translate(613.2 304.6) scale(1 1.1)" font-size="8.9" fill="#1a1a1a" stroke="#1a1a1a" stroke-width="0.2">Portugal</text>
<text transform="translate(647.4 322.9) scale(1 1.1)" font-size="8.9" fill="#1a1a1a" stroke="#1a1a1a" stroke-width="0.2">USA</text>
<text transform="translate(643 340.2) scale(1 1.1)" font-size="8.9" fill="#1a1a1a" stroke="#1a1a1a" stroke-width="0.2">Turkey</text>
<text transform="translate(649.4 370.1) scale(1 1.1)" font-size="8.9" fill="#1a1a1a" stroke="#1a1a1a" stroke-width="0.2">Lavezzi</text>
<text transform="translate(639.8 402.9) scale(1 1.1)" font-size="8.9" fill="#1a1a1a" stroke="#1a1a1a" stroke-width="0.2">Tunisia</text>
<text transform="translate(619.4 425.3) scale(1 1.1)" font-size="8.9" fill="#1a1a1a" stroke="#1a1a1a" stroke-width="0.2">Corsica</text>
<text transform="translate(537.5 434.2) scale(1 1.1)" font-size="8.9" textLength="65.2" lengthAdjust="spacingAndGlyphs" fill="#1a1a1a" stroke="#1a1a1a" stroke-width="0.2">Asian house rat</text>
<text transform="translate(639.1 448.6) scale(1 1.1)" font-size="8.9" fill="#1a1a1a" stroke="#1a1a1a" stroke-width="0.2">Brown rat</text>
<text transform="translate(345.3 53.4) scale(1 1.1)" font-size="8.9" fill="#1a1a1a" stroke="#1a1a1a" stroke-width="0.2">Prague Castle</text>
<text transform="translate(345.3 66.6) scale(1 1.1)" font-size="8.9" fill="#1a1a1a" stroke="#1a1a1a" stroke-width="0.2">Castle Sulzbach</text>
<text transform="translate(345.3 79.8) scale(1 1.1)" font-size="8.9" fill="#1a1a1a" stroke="#1a1a1a" stroke-width="0.2">Buda Castle</text>
<text transform="translate(345.3 93) scale(1 1.1)" font-size="8.9" fill="#1a1a1a" stroke="#1a1a1a" stroke-width="0.2">Kilton Castle</text>
<text transform="translate(345.3 106.2) scale(1 1.1)" font-size="8.9" fill="#1a1a1a" stroke="#1a1a1a" stroke-width="0.2">Deventer</text>
<text transform="translate(345.3 119.4) scale(1 1.1)" font-size="8.9" fill="#1a1a1a" stroke="#1a1a1a" stroke-width="0.2">Kastelholm</text>
<polygon points="335.9,51.35 341.7,48.1 341.7,54.6" fill="#3a86c6" stroke="#1f4a70" stroke-width="0.4" />
<circle cx="338.9" cy="64" r="3" fill="#3a86c6" stroke="#1f4a70" stroke-width="0.4"/>
<rect x="336.1" y="74.9" width="5.2" height="5.2" fill="#3a86c6" stroke="#1f4a70" stroke-width="0.4"/>
<polygon points="338.8,87.8 342,93.2 335.6,93.2" fill="#3a86c6" stroke="#1f4a70" stroke-width="0.4" />
<polygon points="335.9,100.1 341.7,103.2 335.9,106.3" fill="#3a86c6" stroke="#1f4a70" stroke-width="0.4" />
<polygon points="338.7,113.3 341.7,116.3 338.7,119.3 335.7,116.3" fill="#3a86c6" stroke="#1f4a70" stroke-width="0.4" />
<text transform="translate(343.9 173.5) scale(1 1.1)" font-size="8.9" fill="#1a1a1a" stroke="#1a1a1a" stroke-width="0.2">Cari&#269;in Grad</text>
<text transform="translate(343.9 186.65) scale(1 1.1)" font-size="8.9" fill="#1a1a1a" stroke="#1a1a1a" stroke-width="0.2">York</text>
<text transform="translate(343.9 199.8) scale(1 1.1)" font-size="8.9" fill="#1a1a1a" stroke="#1a1a1a" stroke-width="0.2">Voorburg</text>
<text transform="translate(343.9 212.95) scale(1 1.1)" font-size="8.9" fill="#1a1a1a" stroke="#1a1a1a" stroke-width="0.2">Gatehampton Villa</text>
<text transform="translate(343.9 226.1) scale(1 1.1)" font-size="8.9" fill="#1a1a1a" stroke="#1a1a1a" stroke-width="0.2">Petronell</text>
<polygon points="333,167.6 340.1,167.6 336.55,173.9" fill="#e80000" stroke="#8a0000" stroke-width="0.4" />
<polygon points="336.7,178.7 339.6,181.6 336.7,184.5 333.8,181.6" fill="#e80000" stroke="#8a0000" stroke-width="0.4" />
<polygon points="336.55,192.3 340.1,197.6 333,197.6" fill="#e80000" stroke="#8a0000" stroke-width="0.4" />
<circle cx="336.7" cy="207.8" r="3" fill="#e80000" stroke="#8a0000" stroke-width="0.4"/>
<rect x="334.4" y="219.3" width="4.7" height="4.7" fill="#e80000" stroke="#8a0000" stroke-width="0.4"/>
<text transform="translate(323.5 296.8) scale(1 1.1)" font-size="8.9" fill="#1a1a1a" stroke="#1a1a1a" stroke-width="0.2">Althiburos*</text>
<text transform="translate(323.5 309.98) scale(1 1.1)" font-size="8.9" fill="#1a1a1a" stroke="#1a1a1a" stroke-width="0.2">M&#233;rtola</text>
<text transform="translate(323.5 323.16) scale(1 1.1)" font-size="8.9" fill="#1a1a1a" stroke="#1a1a1a" stroke-width="0.2">California</text>
<text transform="translate(323.5 336.34) scale(1 1.1)" font-size="8.9" fill="#1a1a1a" stroke="#1a1a1a" stroke-width="0.2">Assos</text>
<text transform="translate(323.5 349.52) scale(1 1.1)" font-size="8.9" fill="#1a1a1a" stroke="#1a1a1a" stroke-width="0.2">Lavezzi</text>
<text transform="translate(323.5 362.7) scale(1 1.1)" font-size="8.9" fill="#1a1a1a" stroke="#1a1a1a" stroke-width="0.2">Zembra</text>
<text transform="translate(323.5 375.88) scale(1 1.1)" font-size="8.9" fill="#1a1a1a" stroke="#1a1a1a" stroke-width="0.2">Monte di Tuda</text>
<polygon points="320,293.5 318.25,296.53 314.75,296.53 313,293.5 314.75,290.47 318.25,290.47" fill="#3a86c6" stroke="#1f4a70" stroke-width="0.4" />
<polygon points="313.2,304 319.8,304 316.5,309.6" fill="#3a86c6" stroke="#1f4a70" stroke-width="0.4" />
<circle cx="316.6" cy="320.3" r="3" fill="#fff" stroke="#333" stroke-width="0.6"/>
<polygon points="316.6,330.2 319.83,332.55 318.6,336.35 314.6,336.35 313.37,332.55" fill="#e80000" stroke="#8a0000" stroke-width="0.4" />
<polygon points="316.6,343.4 319.83,345.75 318.6,349.55 314.6,349.55 313.37,345.75" fill="#3a86c6" stroke="#1f4a70" stroke-width="0.4" />
<polygon points="316.6,356.7 319.6,359.7 316.6,362.7 313.6,359.7" fill="#fff" stroke="#333" stroke-width="0.6" />
<polygon points="316.6,369.2 317.54,371.71 320.21,371.83 318.12,373.49 318.83,376.07 316.6,374.6 314.37,376.07 315.08,373.49 312.99,371.83 315.66,371.71" fill="#3a86c6" stroke="#1f4a70" stroke-width="0.4" />
<text transform="translate(320.3 82.7) rotate(-90) scale(1 1.1)" font-size="8.9" text-anchor="middle" fill="#1a1a1a" stroke="#1a1a1a" stroke-width="0.2">Medieval cluster</text>
<text transform="translate(319.6 207.3) rotate(-90) scale(1 1.1)" font-size="8.78" text-anchor="middle" fill="#1a1a1a" stroke="#1a1a1a" stroke-width="0.2">Roman/Byzantine cluster</text>
<text transform="translate(293 145.7) rotate(-90) scale(1 1.1)" font-size="8.9" font-weight="bold" text-anchor="middle" fill="#1a1a1a" stroke="#1a1a1a" stroke-width="0.2">Northern group</text>
<text transform="translate(293 346.5) rotate(-90) scale(1 1.1)" font-size="8.9" font-weight="bold" text-anchor="middle" fill="#1a1a1a" stroke="#1a1a1a" stroke-width="0.2">Southern group</text>
</svg>
</body></html>
